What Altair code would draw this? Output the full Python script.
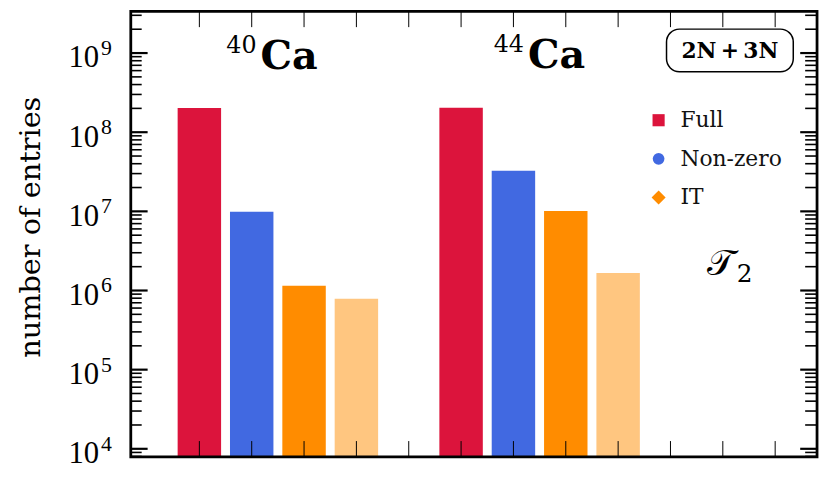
import altair as alt
import pandas as pd

# ---------------- data ----------------
nuclei = ["40Ca", "44Ca"]
series = ["Full", "Non-zero", "IT", "IT (reduced)"]
series_colors = ["#DC143C", "#4169E1", "#FF8C00", "#FFC680"]
values_40ca = [2.02e8, 9.9e6, 1.15e6, 7.85e5]
values_44ca = [2.03e8, 3.26e7, 1.01e7, 1.67e6]

x_tick_values = list(range(12))
y_major_exponents = [4, 5, 6, 7, 8, 9]

legend_labels = ["Full", "Non-zero", "IT"]
legend_shapes = ["square", "circle", "diamond"]
legend_sizes = [150, 140, 200]

y_title = "number of entries"
interaction_label = "2N\u2009+\u20093N"
operator_label = "\U0001D4AF"
operator_sub = "2"

# ---------------- tables ----------------
rows = []
for i, (nuc, vals) in enumerate(zip(nuclei, [values_40ca, values_44ca])):
    for j, (s, v) in enumerate(zip(series, vals)):
        rows.append({"nucleus": nuc, "series": s, "value": v,
                     "slot": 5 * i + j, "color": series_colors[j]})
bars_df = pd.DataFrame(rows)

Y_MIN, Y_MAX = 7.9e3, 3.37e9
majors = [10.0 ** e for e in y_major_exponents]
minors = [k * 10.0 ** e for e in range(3, 10) for k in range(2, 10)
          if Y_MIN < k * 10.0 ** e < Y_MAX]
ytick_major_df = pd.DataFrame({"v": majors})
ytick_minor_df = pd.DataFrame({"v": minors})
xtick_df = pd.DataFrame({"t": x_tick_values})
ylab_df = pd.DataFrame({"v": majors, "base": ["10"] * len(majors),
                        "exp": [str(e) for e in y_major_exponents]})
one = pd.DataFrame({"a": [0]})

W, H = 693, 450
xs = alt.Scale(domain=[-1.31, 11.80], nice=False, zero=False)
ys = alt.Scale(type="log", domain=[Y_MIN, Y_MAX], nice=False)

SERIF = "DejaVu Serif"

# ---------------- layers ----------------
bars = alt.Chart(bars_df).transform_calculate(
    left="datum.slot - 0.415", right="datum.slot + 0.415"
).mark_bar(strokeWidth=0).encode(
    x=alt.X("left:Q", scale=xs, axis=None),
    x2="right:Q",
    y=alt.Y("value:Q", scale=ys, axis=None),
    y2=alt.value(H),
    color=alt.Color("color:N", scale=None),
)

def yrule(df, x0, x1, w):
    return alt.Chart(df).mark_rule(color="black", strokeWidth=w).encode(
        y=alt.Y("v:Q", scale=ys, axis=None), x=alt.value(x0), x2=alt.value(x1))

left_major = yrule(ytick_major_df, 0, 17, 2.2)
left_minor = yrule(ytick_minor_df, 0, 11, 1.6)
right_major = yrule(ytick_major_df, W - 17, W, 2.2)
right_minor = yrule(ytick_minor_df, W - 12, W, 1.6)

def xrule(y0, y1):
    return alt.Chart(xtick_df).mark_rule(color="black", strokeWidth=1).encode(
        x=alt.X("t:Q", scale=xs, axis=None), y=alt.value(y0), y2=alt.value(y1))

bottom_ticks = xrule(H - 16, H)
top_ticks = xrule(0, 16)

frame = alt.Chart(one).mark_rect(fillOpacity=0, stroke="black", strokeWidth=2.8).encode(
    x=alt.value(0), x2=alt.value(W), y=alt.value(0), y2=alt.value(H))

ylab_base = alt.Chart(ylab_df).mark_text(
    align="right", baseline="alphabetic", font="Liberation Serif", fontSize=31,
    dy=14.5, color="black"
).encode(x=alt.value(-32), y=alt.Y("v:Q", scale=ys, axis=None), text="base:N")

ylab_exp = alt.Chart(ylab_df).mark_text(
    align="left", baseline="alphabetic", font="Liberation Serif", fontSize=22,
    dy=2, color="black"
).encode(x=alt.value(-30), y=alt.Y("v:Q", scale=ys, axis=None), text="exp:N")

def txt(text, x, y, color="black", **kw):
    return alt.Chart(one).mark_text(text=text, color=color, **kw).encode(
        x=alt.value(x), y=alt.value(y))

ytitle = txt(y_title, -92, H / 2 - 7, angle=270, align="center",
             baseline="alphabetic", font=SERIF, fontSize=29)

nuc_layers = []
for nuc, (xn, yn) in zip(nuclei, [(131, 58), (401, 57)]):
    nuc_layers.append(txt(nuc[:2], xn - 4, yn - 16, align="right",
                          baseline="alphabetic", font=SERIF, fontSize=24))
    nuc_layers.append(txt(nuc[2:], xn, yn, align="left",
                          baseline="alphabetic", font=SERIF, fontSize=40,
                          fontWeight="bold"))

box = alt.Chart(one).mark_rect(fill="white", stroke="black", strokeWidth=1.5,
                               cornerRadius=13).encode(
    x=alt.value(541), x2=alt.value(669), y=alt.value(18), y2=alt.value(61))
box_text = txt(interaction_label, 605, 40, align="center", baseline="middle",
               font=SERIF, fontSize=22, fontWeight="bold")

legend_layers = []
for k, (lab, shp, sz) in enumerate(zip(legend_labels, legend_shapes, legend_sizes)):
    ly = 110 + 39 * k
    legend_layers.append(
        alt.Chart(one).mark_point(filled=True, opacity=1, shape=shp, size=sz,
                                  color=series_colors[k]).encode(
            x=alt.value(533), y=alt.value(ly)))
    legend_layers.append(txt(lab, 555, ly, align="left", baseline="middle",
                             font=SERIF, fontSize=22, color="#111111"))

op_main = txt(operator_label, 582, 266, align="left", baseline="alphabetic",
              font=SERIF, fontSize=36)
op_sub = txt(operator_sub, 612, 273, align="left", baseline="alphabetic",
             font=SERIF, fontSize=25)

chart = alt.layer(
    bars, left_minor, left_major, right_minor, right_major, bottom_ticks, top_ticks,
    frame, ylab_base, ylab_exp, ytitle, *nuc_layers, box, box_text,
    *legend_layers, op_main, op_sub,
).properties(
    width=W, height=H,
    autosize=alt.AutoSizeParams(type="none"),
    padding={"left": 124, "top": 1, "right": 4, "bottom": 22},
    background="white",
).configure_view(strokeWidth=0)

chart.save("out.html", embed_options={"renderer": "svg", "actions": False})
